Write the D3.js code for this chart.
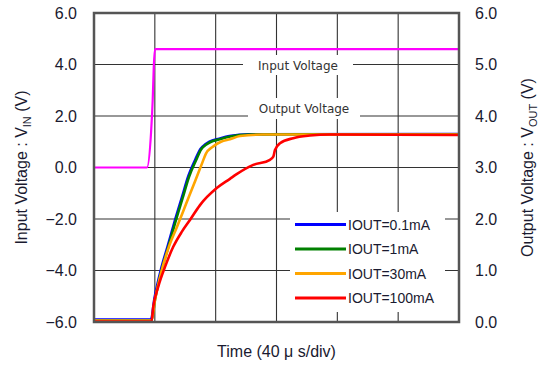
<!DOCTYPE html>
<html>
<head>
<meta charset="utf-8">
<script src="https://cdn.jsdelivr.net/npm/d3@7"></script>
<style>
  body { margin: 0; background: #fff; }
</style>
</head>
<body>
<div id="chart"></div>
<script>
// time in us (40 us/div), voltages in V
const vin = [[0, 0], [34.8, 0], [37.5, 1.34], [38.6, 2.62], [39.3, 3.9], [40.1, 4.6], [240, 4.6]];

const iout01 = [[0, 0.05], [37.5, 0.05], [39.7, 0.45], [44.1, 1.03], [48.5, 1.48], [52.9, 1.94], [57.8, 2.42],
  [62.1, 2.84], [66.7, 3.16], [70.0, 3.36], [73.2, 3.45], [75.9, 3.5], [82.4, 3.56], [89.0, 3.61], [102.2, 3.645], [240, 3.65]];
const iout1 = [[0, 0.03], [37.8, 0.03], [40.1, 0.43], [44.5, 1.01], [48.9, 1.46], [53.3, 1.92], [58.2, 2.4],
  [62.5, 2.82], [67.1, 3.14], [70.4, 3.35], [73.6, 3.44], [76.3, 3.49], [82.8, 3.55], [89.4, 3.6], [102.6, 3.64], [135.4, 3.645], [240, 3.645]];
const iout30 = [[0, 0.03], [37.8, 0.03], [40.1, 0.43], [44.5, 1.0], [49.0, 1.44], [54.6, 1.85], [60.5, 2.29],
  [66.4, 2.73], [71.3, 3.1], [73.6, 3.27], [77.9, 3.4], [83.5, 3.5], [89.4, 3.55], [96.0, 3.61], [111.1, 3.64], [240, 3.64]];
const iout100 = [[0, 0.01], [37.8, 0.01], [39.0, 0.3], [42.3, 0.69], [46.7, 1.07], [52.1, 1.46], [57.7, 1.75],
  [63.1, 1.98], [69.7, 2.27], [80.7, 2.6], [89.4, 2.78], [93.8, 2.87], [104.7, 3.05], [115.7, 3.15], [117.9, 3.21],
  [119.0, 3.34], [122.3, 3.47], [131.0, 3.57], [142.0, 3.62], [155.2, 3.64], [240, 3.63]];

const seriesNames = ['IOUT=0.1mA', 'IOUT=1mA', 'IOUT=30mA', 'IOUT=100mA'];
const seriesColors = ['#0000ff', '#008000', '#ffa500', '#ff0000'];
const seriesData = [iout01, iout1, iout30, iout100];

const leftTicks = [-6, -4, -2, 0, 2, 4, 6];
const rightTicks = [0, 1, 2, 3, 4, 5, 6];
const timeTicks = [0, 40, 80, 120, 160, 200, 240];

const W = 543, H = 369;
const M = { left: 94, top: 13, right: 84, bottom: 47 };
const w = W - M.left - M.right, h = H - M.top - M.bottom;
const TXT = '#1a1a30';
const SANS = '"Liberation Sans", Arial, sans-serif';

const svg = d3.select('#chart').append('svg')
  .attr('width', W).attr('height', H);
const g = svg.append('g').attr('transform', `translate(${M.left},${M.top})`);

const x = d3.scaleLinear().domain([0, 240]).range([0, w]);
const yL = d3.scaleLinear().domain([-6, 6]).range([h, 0]);
const yR = d3.scaleLinear().domain([0, 6]).range([h, 0]);

// Grid
g.selectAll('.vgrid').data(timeTicks.slice(1, -1)).enter().append('line')
  .attr('x1', d => x(d)).attr('x2', d => x(d)).attr('y1', 0).attr('y2', h)
  .attr('stroke', '#333').attr('stroke-width', 1.1);
g.selectAll('.hgrid').data(leftTicks.slice(1, -1)).enter().append('line')
  .attr('x1', 0).attr('x2', w).attr('y1', d => yL(d)).attr('y2', d => yL(d))
  .attr('stroke', '#333').attr('stroke-width', 1.1);

// Axes
const left = g.append('g')
  .call(d3.axisLeft(yL).tickValues(leftTicks).tickSize(0).tickPadding(17).tickFormat(d3.format('.1f')));
const right = g.append('g').attr('transform', `translate(${w},0)`)
  .call(d3.axisRight(yR).tickValues(rightTicks).tickSize(0).tickPadding(16).tickFormat(d3.format('.1f')));
for (let a of [left, right]) {
  a.select('.domain').remove();
  a.selectAll('text').attr('font-size', 16).attr('fill', TXT).attr('font-family', SANS);
}

// Label boxes
let drawLabel = (cx, y0, y1, x0, x1, text) => {
  g.append('rect').attr('x', x0 - M.left).attr('y', y0 - M.top)
    .attr('width', x1 - x0).attr('height', y1 - y0).attr('fill', '#fff');
  g.append('text').text(text)
    .attr('x', cx - M.left).attr('y', (y0 + y1) / 2 - M.top + 4.5)
    .attr('text-anchor', 'middle').attr('font-size', 12)
    .attr('font-family', '"DejaVu Sans", sans-serif').attr('fill', '#333');
};
drawLabel(298, 55, 75, 243, 353, 'Input Voltage');
drawLabel(304, 98, 119, 248, 360, 'Output Voltage');

// Curves
const lineL = d3.line().x(d => x(d[0])).y(d => yL(d[1])).curve(d3.curveMonotoneX);
const lineR = d3.line().x(d => x(d[0])).y(d => yR(d[1])).curve(d3.curveMonotoneX);

g.append('path').datum(vin).attr('d', lineL)
  .attr('fill', 'none').attr('stroke', '#ff00ff').attr('stroke-width', 2.2);

seriesData.forEach((s, i) => {
  g.append('path').datum(s).attr('d', lineR)
    .attr('fill', 'none').attr('stroke', seriesColors[i]).attr('stroke-width', 2.6)
    .attr('stroke-linejoin', 'round');
});

// Frame
g.append('rect').attr('x', 0).attr('y', 0).attr('width', w).attr('height', h)
  .attr('fill', 'none').attr('stroke', '#555').attr('stroke-width', 2.5);

// Legend
const lg = g.append('g').attr('transform', `translate(${290 - M.left},${212 - M.top})`);
lg.append('rect').attr('width', 155).attr('height', 100).attr('fill', '#fff');
seriesNames.forEach((n, i) => {
  let yy = 12.5 + i * 24.5;
  lg.append('line').attr('x1', 5).attr('x2', 56).attr('y1', yy).attr('y2', yy)
    .attr('stroke', seriesColors[i]).attr('stroke-width', 3);
  lg.append('text').text(n).attr('x', 58).attr('y', yy + 5)
    .attr('font-size', 14).attr('font-family', SANS).attr('fill', TXT);
});

// Axis titles
let ytl = svg.append('text')
  .attr('transform', `translate(27,${M.top + h / 2}) rotate(-90)`)
  .attr('text-anchor', 'middle').attr('font-size', 16).attr('font-family', SANS).attr('fill', TXT);
ytl.append('tspan').text('Input Voltage : V');
ytl.append('tspan').text('IN').attr('font-size', 11).attr('dy', 4);
ytl.append('tspan').text(' (V)').attr('dy', -4);

let ytr = svg.append('text')
  .attr('transform', `translate(533,${M.top + h / 2}) rotate(-90)`)
  .attr('text-anchor', 'middle').attr('font-size', 16).attr('font-family', SANS).attr('fill', TXT);
ytr.append('tspan').text('Output Voltage : V');
ytr.append('tspan').text('OUT').attr('font-size', 11).attr('dy', 4);
ytr.append('tspan').text(' (V)').attr('dy', -4);

svg.append('text').text('Time (40 \u03bc s/div)')
  .attr('x', M.left + w / 2).attr('y', 357)
  .attr('text-anchor', 'middle').attr('font-size', 16).attr('font-family', SANS).attr('fill', TXT);
</script>
</body>
</html>
